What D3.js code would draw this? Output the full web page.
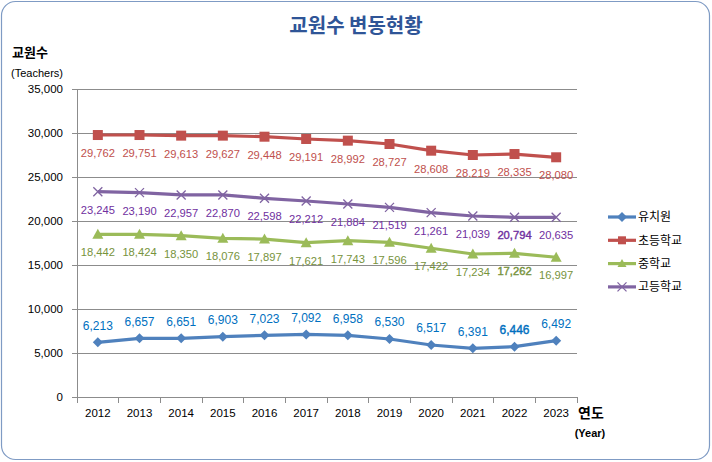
<!DOCTYPE html>
<html><head><meta charset="utf-8">
<script src="https://cdn.jsdelivr.net/npm/d3@7"></script>
<style>body{margin:0;background:#fff}svg{display:block}</style>
</head><body><svg id="c" width="712" height="462"></svg>
<script>
const years = ["2012","2013","2014","2015","2016","2017","2018","2019","2020","2021","2022","2023"];
const seriesNames = ["유치원","초등학교","중학교","고등학교"];
// plotted values (read from point positions)
const kinder = [6210,6670,6670,6860,7010,7110,7010,6590,5910,5530,5720,6400];
const elem = [29770,29770,29700,29700,29580,29320,29130,28750,27990,27500,27610,27240];
const middle = [18490,18490,18330,18030,17950,17540,17760,17580,16900,16250,16330,15880];
const high = [23330,23220,22960,22960,22580,22270,21930,21550,20950,20570,20420,20420];
// data label texts
const kinderLabels = ["6,213","6,657","6,651","6,903","7,023","7,092","6,958","6,530","6,517","6,391","6,446","6,492"];
const elemLabels = ["29,762","29,751","29,613","29,627","29,448","29,191","28,992","28,727","28,608","28.219","28,335","28,080"];
const middleLabels = ["18,442","18,424","18,350","18,076","17,897","17,621","17,743","17,596","17,422","17,234","17,262","16,997"];
const highLabels = ["23,245","23,190","22,957","22,870","22,598","22,212","21,884","21,519","21,261","21,039","20,794","20,635"];
const yTicks = [0,5000,10000,15000,20000,25000,30000,35000];

const lineColors = ["#4F81BD","#C0504D","#9BBB59","#8064A2"];
const labelColors = ["#0070C0","#C0504D","#77933C","#7030A0"];
const labelDy = [-17, 18, 18, 18];
const labelSize = [12, 11.2, 11.2, 11.2];
const allVals = [kinder, elem, middle, high];
const allLabels = [kinderLabels, elemLabels, middleLabels, highLabels];
const shapes = ["diamond","square","triangle","x"];

const svg = d3.select("#c");
const font = "'Liberation Sans', Arial, sans-serif";
const kfont = "'Noto Sans CJK KR', sans-serif";

svg.append("rect").attr("x",1.5).attr("y",1.5).attr("width",708).attr("height",458)
  .attr("rx",14).attr("fill","#fff").attr("stroke","#7F9BC4").attr("stroke-width",1.2);

const x = d3.scaleBand().domain(years).range([77,577]);
const y = d3.scaleLinear().domain([0,35000]).range([397,89]);

// gridlines
svg.append("g").selectAll("line").data(yTicks).join("line")
  .attr("x1",72).attr("x2",577).attr("y1",d=>y(d)).attr("y2",d=>y(d))
  .attr("stroke","#8c8c8c").attr("stroke-width",1).attr("shape-rendering","crispEdges");

// y axis
const yAxis = d3.axisLeft(y).tickValues(yTicks).tickFormat(d3.format(",")).tickSize(5).tickPadding(9);
const ya = svg.append("g").attr("transform","translate(77,0)").call(yAxis);
ya.select(".domain").attr("stroke","#8c8c8c").attr("shape-rendering","crispEdges");
ya.selectAll(".tick line").attr("stroke","#8c8c8c");
ya.selectAll("text").attr("font-family",font).attr("font-size",11.5).attr("fill","#000");

// x axis
const xAxis = d3.axisBottom(x).tickSize(0).tickPadding(12);
const xa = svg.append("g").attr("transform","translate(0,397)").call(xAxis);
xa.select(".domain").attr("stroke","#8c8c8c").attr("shape-rendering","crispEdges");
xa.selectAll("text").attr("font-family",font).attr("font-size",11.5).attr("fill","#000");
// between-category tick marks
const bounds = years.map((d,i)=>x(d)).concat([577]);
svg.append("g").selectAll("line").data(bounds).join("line")
  .attr("x1",d=>d).attr("x2",d=>d).attr("y1",397).attr("y2",403)
  .attr("stroke","#8c8c8c").attr("shape-rendering","crispEdges");

const cx = d => x(d) + x.bandwidth()/2;

function marker(g, shape, color, px, py){
  if(shape==="diamond"){
    g.append("path").attr("d",`M${px},${py-5}L${px+5},${py}L${px},${py+5}L${px-5},${py}Z`).attr("fill",color);
  } else if(shape==="square"){
    g.append("rect").attr("x",px-5).attr("y",py-5).attr("width",10).attr("height",10).attr("fill",color);
  } else if(shape==="triangle"){
    g.append("path").attr("d",`M${px},${py-5.5}L${px+5.5},${py+4.5}L${px-5.5},${py+4.5}Z`).attr("fill",color);
  } else {
    g.append("path").attr("d",`M${px-4.5},${py-4.5}L${px+4.5},${py+4.5}M${px+4.5},${py-4.5}L${px-4.5},${py+4.5}`)
      .attr("stroke",color).attr("stroke-width",1.3).attr("fill","none");
  }
}

const line = d3.line().x((d,i)=>cx(years[i])).y(d=>y(d));
allVals.forEach((vals,si)=>{
  const g = svg.append("g");
  g.append("path").datum(vals).attr("d",line).attr("fill","none")
    .attr("stroke",lineColors[si]).attr("stroke-width",3.2).attr("stroke-linejoin","round");
  vals.forEach((v,i)=>marker(g, shapes[si], lineColors[si], cx(years[i]), y(v)));
  g.selectAll("text").data(vals).join("text")
    .attr("x",(d,i)=>cx(years[i])).attr("y",d=>y(d)+labelDy[si]).attr("dy","0.35em")
    .attr("text-anchor","middle").attr("font-family",font).attr("font-size",labelSize[si])
    .attr("fill",labelColors[si])
    .attr("stroke",(d,i)=> (i===10 && si!==1) ? labelColors[si] : "none")
    .attr("stroke-width",0.4)
    .text((d,i)=>allLabels[si][i]);
});

// title
svg.append("text").attr("x",356).attr("y",33).attr("text-anchor","middle")
  .attr("font-family",kfont).attr("font-weight","bold").attr("font-size",20).attr("fill","#2F5597")
  .text("교원수 변동현황");
svg.append("text").attr("x",30).attr("y",57).attr("text-anchor","middle")
  .attr("font-family",kfont).attr("font-weight","bold").attr("font-size",13).text("교원수");
svg.append("text").attr("x",37).attr("y",77).attr("text-anchor","middle")
  .attr("font-family",font).attr("font-size",11).text("(Teachers)");
svg.append("text").attr("x",591).attr("y",418).attr("text-anchor","middle")
  .attr("font-family",kfont).attr("font-weight","bold").attr("font-size",14).text("연도");
svg.append("text").attr("x",590).attr("y",437).attr("text-anchor","middle")
  .attr("font-family",font).attr("font-weight","bold").attr("font-size",11).text("(Year)");

// legend
seriesNames.forEach((n,i)=>{
  const ly = 217 + i*23.3;
  const g = svg.append("g");
  g.append("line").attr("x1",608).attr("x2",636).attr("y1",ly).attr("y2",ly)
    .attr("stroke",lineColors[i]).attr("stroke-width",3.2);
  const s = shapes[i];
  if(s==="diamond") marker(g,s,lineColors[i],622,ly);
  else if(s==="square") g.append("rect").attr("x",618).attr("y",ly-4).attr("width",8).attr("height",8).attr("fill",lineColors[i]);
  else if(s==="triangle") g.append("path").attr("d",`M622,${ly-4.5}L626.5,${ly+3.5}L617.5,${ly+3.5}Z`).attr("fill",lineColors[i]);
  else marker(g,s,lineColors[i],622,ly);
  g.append("text").attr("x",638).attr("y",ly).attr("dy","0.35em")
    .attr("font-family",kfont).attr("font-size",12).text(n);
});
</script></body></html>
